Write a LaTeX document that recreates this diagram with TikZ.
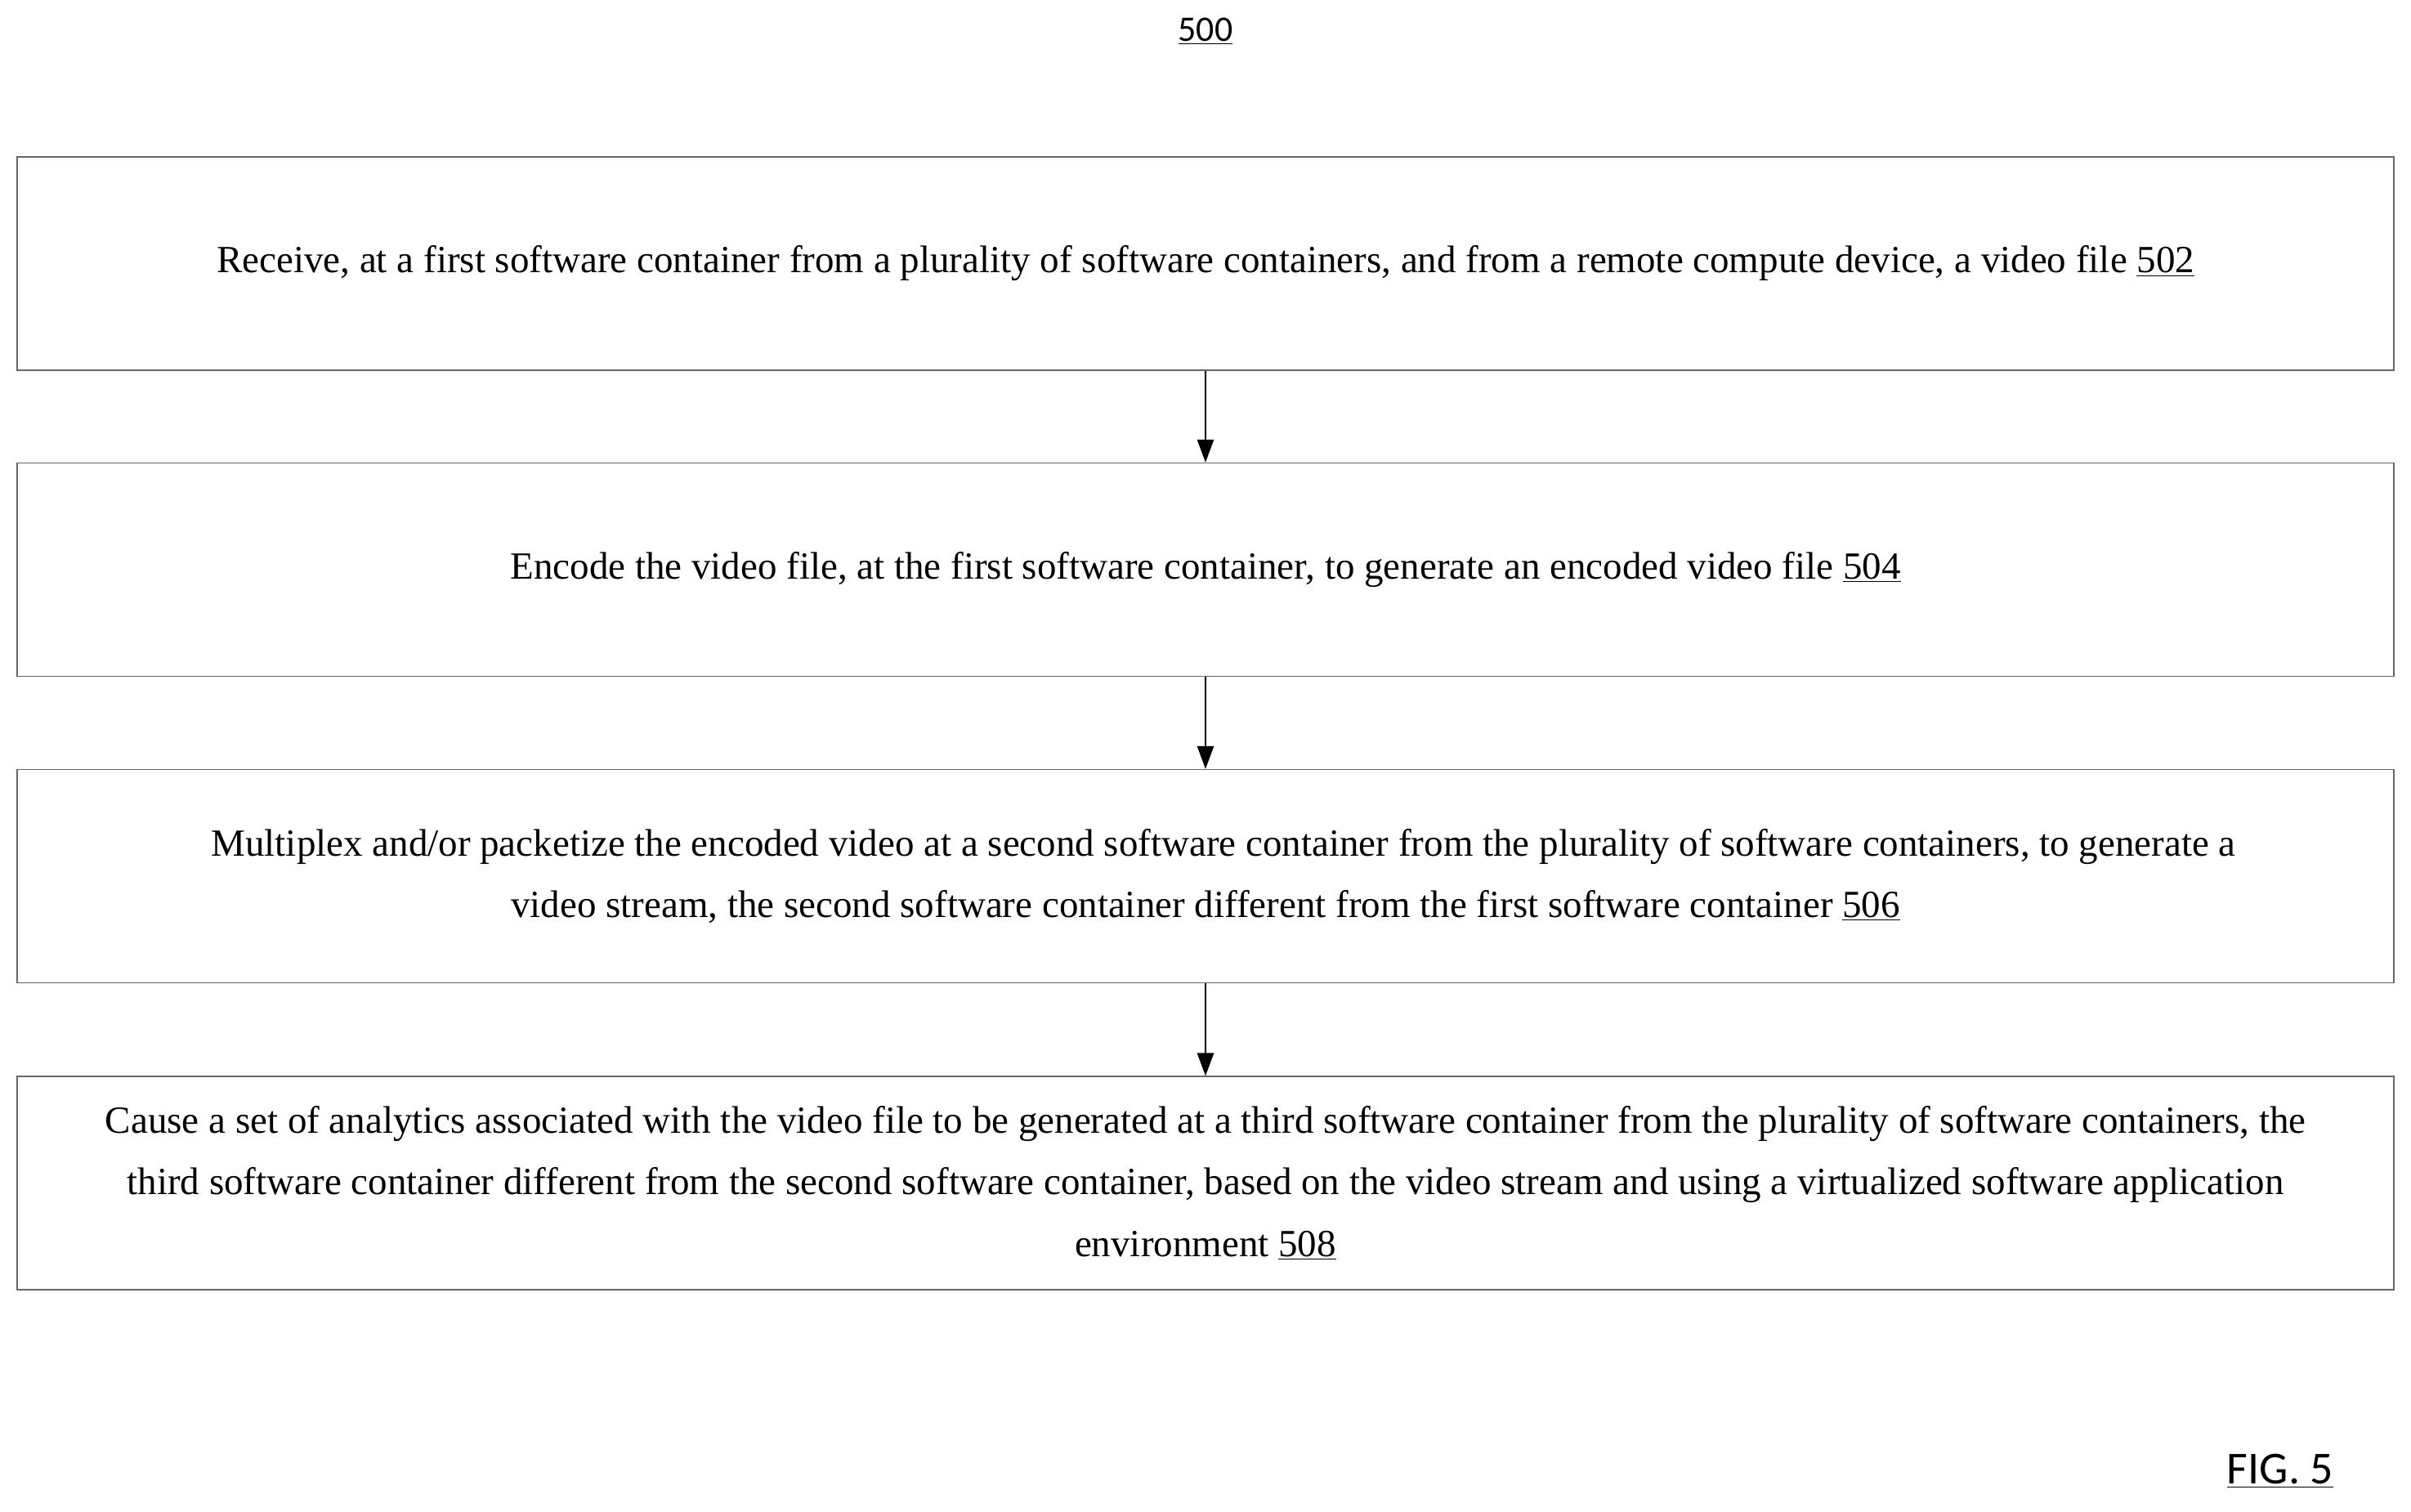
\documentclass[tikz,border=0pt]{standalone}
\usepackage{fontspec}
\setmainfont{Liberation Serif}
\newfontfamily\figfont{Carlito}
\usetikzlibrary{arrows.meta}
\tikzset{
 stepbox/.style={draw=black!60, line width=0.6pt, minimum width=1454pt, minimum height=130.5pt, inner sep=0pt, align=center, font=\fontsize{23.5}{37.6}\selectfont},
 flow/.style={-{Triangle[length=14pt,width=10pt]}, line width=1.3pt}
}
\begin{document}
\begin{tikzpicture}[x=1pt,y=-1pt]
\useasboundingbox (0,0) rectangle (1475,925);
\node[font=\figfont\fontsize{22}{26}\selectfont] (t) at (737.5,19) {\underline{500}};
\node[stepbox] (b1) at (737.5,161.25) {Receive, at a first software container from a plurality of software containers, and from a remote compute device, a video file \underline{502}};
\node[stepbox] (b2) at (737.5,348.5) {Encode the video file, at the first software container, to generate an encoded video file \underline{504}};
\node[stepbox] (b3) at (737.5,536) {\hspace*{22pt}Multiplex and/or packetize the encoded video at a second software container from the plurality of software containers, to generate a\\video stream, the second software container different from the first software container \underline{506}};
\node[stepbox] (b4) at (737.5,723.75) {Cause a set of analytics associated with the video file to be generated at a third software container from the plurality of software containers, the\\third software container different from the second software container, based on the video stream and using a virtualized software application\\environment \underline{508}};
\node[font=\figfont\fontsize{28}{32}\selectfont] (f) at (1395,900) {\underline{FIG. 5}};
\draw[flow] (b1) -- (b2);
\draw[flow] (b2) -- (b3);
\draw[flow] (b3) -- (b4);
\end{tikzpicture}
\end{document}
